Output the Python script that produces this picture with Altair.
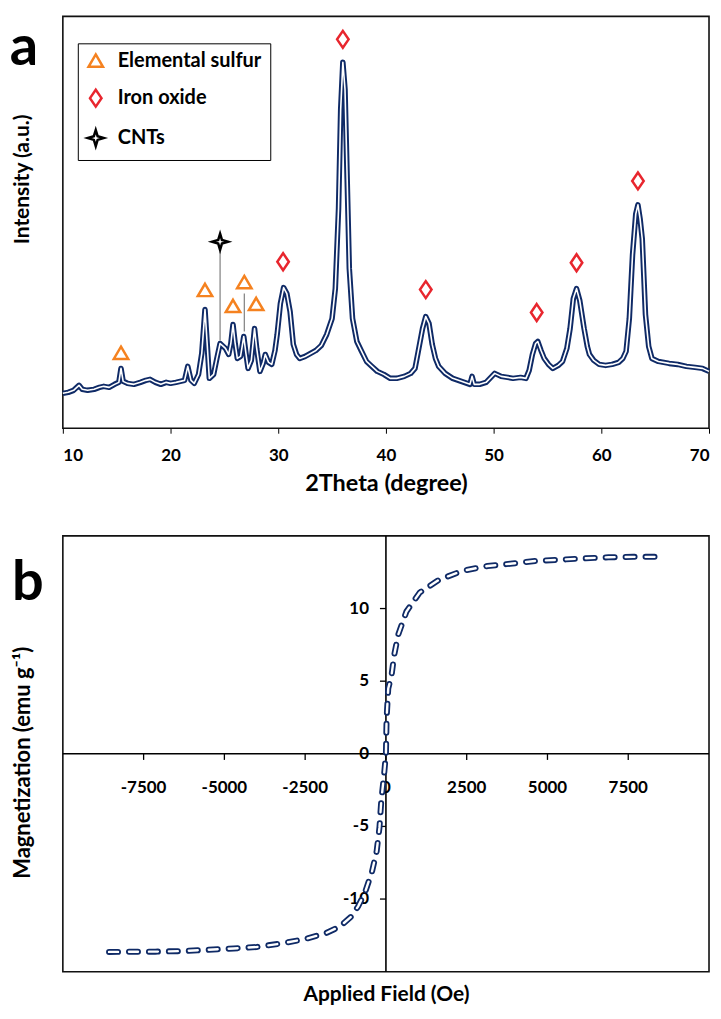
import altair as alt
import pandas as pd

# ---------------- Panel a : XRD pattern ----------------
two_theta = [10.0, 10.5, 11.0, 11.5, 11.8, 12.3, 12.9, 13.4, 13.8, 14.3, 14.8, 15.2, 15.4, 15.6,
             16.0, 16.6, 17.2, 17.7, 18.1, 18.6, 19.1, 19.6, 20.0, 20.5, 20.9, 21.3, 21.6, 21.9,
             22.2, 22.6, 22.9, 23.2, 23.4, 23.6, 24.0, 24.3, 24.6, 24.9, 25.1, 25.4, 25.6, 25.8,
             26.0, 26.2, 26.5, 26.8, 27.0, 27.2, 27.5, 27.8, 28.0, 28.3, 28.6, 28.8, 29.1, 29.4,
             29.7, 29.9, 30.2, 30.5, 30.8, 31.1, 31.4, 31.7, 32.0, 32.5, 33.0, 33.5, 34.0, 34.5,
             35.0, 35.3, 35.6, 35.8, 36.0, 36.2, 36.4, 36.6, 36.9, 37.3, 37.7, 38.2, 38.7, 39.2,
             39.8, 40.4, 41.0, 41.7, 42.3, 42.7, 43.0, 43.4, 43.7, 44.0, 44.3, 44.6, 44.9, 45.5,
             46.2, 47.0, 47.8, 48.0, 48.2, 48.7, 49.3, 50.1, 50.7, 51.3, 51.8, 52.5, 53.0, 53.3,
             53.6, 53.9, 54.1, 54.4, 54.7, 55.1, 55.5, 56.0, 56.4, 56.8, 57.1, 57.4, 57.7, 58.0,
             58.4, 58.7, 58.9, 59.3, 59.8, 60.4, 61.0, 61.6, 62.0, 62.3, 62.6, 62.9, 63.2, 63.4,
             63.6, 63.8, 64.1, 64.4, 64.7, 65.3, 66.3, 67.1, 67.9, 68.7, 69.4, 70.0]
intensity = [35, 36, 38, 43, 39, 38, 39, 41, 42, 41, 44, 46, 60, 47,
             45, 44, 46, 48, 49, 46, 44, 46, 45, 46, 47, 48, 62, 48,
             45, 54, 75, 119, 85, 50, 54, 70, 85, 82, 80, 74, 85, 104,
             85, 70, 72, 92, 75, 60, 68, 100, 80, 57, 65, 74, 66, 64,
             78, 94, 125, 141, 135, 117, 84, 74, 70, 72, 75, 78, 83, 94,
             110, 140, 220, 320, 367, 340, 250, 160, 110, 87, 78, 67, 62, 57,
             54, 50, 50, 52, 55, 60, 77, 100, 112, 105, 84, 70, 62, 55,
             50, 47, 44, 52, 44, 44, 46, 55, 52, 51, 50, 51, 50, 58,
             74, 85, 87, 78, 70, 64, 60, 63, 67, 80, 100, 130, 140, 128,
             100, 82, 74, 68, 64, 63, 64, 66, 70, 77, 110, 174, 215, 224,
             210, 190, 114, 82, 70, 67, 65, 64, 62, 61, 60, 57]

marker_types = ["Elemental sulfur", "Elemental sulfur", "Elemental sulfur", "Elemental sulfur",
                "Elemental sulfur", "Iron oxide", "Iron oxide", "Iron oxide", "Iron oxide",
                "Iron oxide", "Iron oxide", "CNTs"]
marker_theta = [15.4, 23.2, 25.8, 26.85, 27.95, 30.45, 36.0, 43.7, 54.0, 57.7, 63.4, 24.6]
marker_int = [75, 138, 122, 146, 124, 167, 390, 139, 116, 166, 248, 187]

leader_theta = [24.6, 26.85]
leader_low = [88, 97]
leader_high = [177, 135]

legend_names = ["Elemental sulfur", "Iron oxide", "CNTs"]
legend_colors = ["#F58220", "#E8262E", "#000000"]
legend_shapes = ["M0,-0.8L0.85,0.65L-0.85,0.65Z",
                 "M0,-1L0.68,0L0,1L-0.68,0Z",
                 "M0,-0.95L0.22,-0.22L0.95,0L0.22,0.22L0,0.95L-0.22,0.22L-0.95,0L-0.22,-0.22Z"]

xrd_ticks = [10, 20, 30, 40, 50, 60, 70]

# ---------------- Panel b : magnetization loop ----------------
field_oe = [-8570, -7140, -6290, -5570, -4710, -4000, -3210, -2500, -1860, -1430, -1070, -860,
            -640, -430, -286, -200, -143, -60, 0, 20, 72, 174, 256, 380, 635, 1045, 1660, 2377,
            3145, 3914, 4631, 5451, 6168, 6885, 7653, 8600]
magnet = [-13.64, -13.62, -13.58, -13.5, -13.4, -13.3, -13.05, -12.75, -12.35, -11.9, -11.2, -10.5,
          -9.5, -8.1, -6.7, -5.07, -3.2, -1.5, 0, 2.4, 4.5, 5.4, 6.8, 8.2, 9.8, 11.1, 12.0, 12.6,
          12.93, 13.1, 13.28, 13.37, 13.46, 13.53, 13.56, 13.56]

h_ticks = [-7500, -5000, -2500, 0, 2500, 5000, 7500]
m_ticks = [-10, -5, 0, 5, 10]

NAVY = "#0F2A66"
FONT = "Lato"

# ---------------- build panel a ----------------
xrd = pd.DataFrame({"theta": two_theta, "I": intensity})
mk = pd.DataFrame({"theta": marker_theta, "I": marker_int, "type": marker_types})
ld = pd.DataFrame({"theta": leader_theta, "lo": leader_low, "hi": leader_high})

xa = alt.X("theta:Q", scale=alt.Scale(domain=[10, 70], nice=False),
           axis=alt.Axis(values=xrd_ticks, title="2Theta (degree)", tickSize=5, domain=False,
                         labelPadding=14, titlePadding=8, labelFontSize=17, titleFontSize=23.5))
ya = alt.Y("I:Q", scale=alt.Scale(domain=[0, 413], nice=False),
           axis=alt.Axis(title="Intensity (a.u.)", labels=False, ticks=False, domain=False,
                         titleFontSize=21, titlePadding=30, titleY=163))

base_a = alt.Chart(xrd).encode(x=xa, y=ya)
line_out = base_a.mark_line(color=NAVY, strokeWidth=5.5, strokeJoin="round")
line_in = base_a.mark_line(color="white", strokeWidth=1.6, strokeJoin="round")

leaders = alt.Chart(ld).mark_rule(color="#7F7F7F", strokeWidth=1.2).encode(
    x="theta:Q", y="lo:Q", y2="hi:Q")

leg = alt.Legend(orient="none", legendX=15, legendY=27, title=None, strokeColor="black",
                 fillColor="white", padding=8, rowPadding=12, labelFont=FONT,
                 labelFontWeight="bold", labelFontSize=20, labelColor="black",
                 symbolSize=289, symbolStrokeWidth=2.5, labelOffset=12)
markers = alt.Chart(mk).mark_point(filled=False, size=289, strokeWidth=2.5, opacity=1).encode(
    x="theta:Q", y="I:Q",
    color=alt.Color("type:N", scale=alt.Scale(domain=legend_names, range=legend_colors), legend=leg),
    shape=alt.Shape("type:N", scale=alt.Scale(domain=legend_names, range=legend_shapes), legend=leg),
)

label_a = alt.Chart(pd.DataFrame({"t": ["a"]})).mark_text(
    fontSize=56, fontWeight="bold", font=FONT, align="center", baseline="alphabetic", color="black"
).encode(text="t:N", x=alt.value(-39), y=alt.value(49))

panel_a = alt.layer(line_out, line_in, leaders, markers, label_a).properties(width=648, height=413)

# ---------------- build panel b ----------------
mag = pd.DataFrame({"H": field_oe, "M": magnet})
hx = alt.X("H:Q", scale=alt.Scale(domain=[-10000, 10000], nice=False),
           axis=alt.Axis(title="Applied Field (Oe)", labels=False, ticks=False, domain=False,
                         titleFontSize=21, titlePadding=12))
my = alt.Y("M:Q", scale=alt.Scale(domain=[-15, 15], nice=False),
           axis=alt.Axis(title="Magnetization (emu g\u207b\u00b9)", labels=False, ticks=False,
                         domain=False, titleFontSize=22, titlePadding=28, titleY=227))

base_b = alt.Chart(mag).encode(x=hx, y=my)
dash_out = base_b.mark_line(color=NAVY, strokeWidth=6, strokeDash=[9, 11], strokeCap="round")
dash_in = base_b.mark_line(color="white", strokeWidth=2.4, strokeDash=[9, 11], strokeCap="round")

hrule = alt.Chart(pd.DataFrame({"z": [0]})).mark_rule(color="black", strokeWidth=1.6).encode(
    y=alt.Y("z:Q"))
vrule = alt.Chart(pd.DataFrame({"z": [0]})).mark_rule(color="black", strokeWidth=1.6).encode(
    x=alt.X("z:Q"))

ht = pd.DataFrame({"H": h_ticks})
mt = pd.DataFrame({"M": m_ticks})
h_tickmarks = alt.Chart(ht).mark_rule(color="black", strokeWidth=1.3).encode(
    x="H:Q", y=alt.datum(0), y2=alt.datum(-0.42))
m_tickmarks = alt.Chart(mt).mark_rule(color="black", strokeWidth=1.3).encode(
    y="M:Q", x=alt.datum(0), x2=alt.datum(-185))
h_labels = alt.Chart(ht).transform_calculate(lab="toString(datum.H)").mark_text(
    fontSize=17, fontWeight="bold", font=FONT, dy=34, baseline="middle", color="black").encode(
    x="H:Q", y=alt.datum(0), text="lab:N")
m_labels = alt.Chart(mt).transform_calculate(lab="toString(datum.M)").mark_text(
    fontSize=17, fontWeight="bold", font=FONT, dx=-17, align="right", baseline="middle",
    color="black").encode(y="M:Q", x=alt.datum(0), text="lab:N")

label_b = alt.Chart(pd.DataFrame({"t": ["b"]})).mark_text(
    fontSize=56, fontWeight="bold", font=FONT, align="center", baseline="alphabetic", color="black"
).encode(text="t:N", x=alt.value(-35), y=alt.value(64))

panel_b = alt.layer(hrule, vrule, h_tickmarks, m_tickmarks, h_labels, m_labels,
                    dash_out, dash_in, label_b).properties(width=648, height=437)

chart = alt.vconcat(panel_a, panel_b, spacing=38).resolve_scale(
    color="independent", shape="independent"
).configure(
    padding={"left": 0, "top": 6, "right": 0, "bottom": 0}
).configure_view(
    stroke="#111111", strokeWidth=1.6
).configure_axis(
    labelFont=FONT, labelFontWeight="bold", labelColor="black",
    titleFont=FONT, titleFontWeight="bold", titleColor="black",
    grid=False, tickColor="black"
)

chart.save("out.html", embed_options={"renderer": "svg", "actions": False})
